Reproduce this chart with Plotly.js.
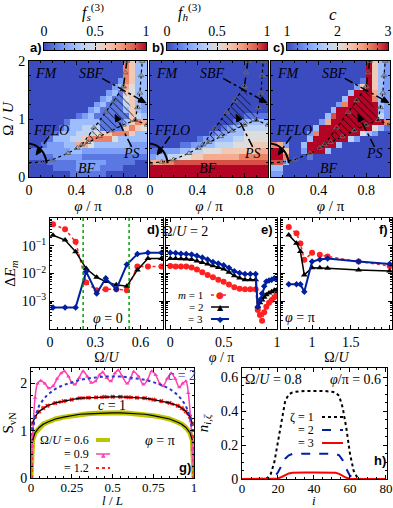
<!DOCTYPE html>
<html><head><meta charset="utf-8">
<script src="https://cdn.plot.ly/plotly-3.0.1.min.js"></script>
<style>html,body{margin:0;padding:0;background:#fff}#chart{width:393px;height:508px}</style>
</head><body><div id="chart"></div>
<script>
// ---------- DATA ----------
const phiC = [0.025,0.075,0.125,0.175,0.225,0.275,0.325,0.375,0.425,0.475,0.525,0.575,0.625,0.675,0.725,0.775,0.825,0.875,0.925,0.975];
const omegaC = [0.05,0.15,0.25,0.35,0.45,0.55,0.65,0.75,0.85,0.95,1.05,1.15,1.25,1.35,1.45,1.55,1.65,1.75,1.85,1.95];
// rows top (Omega=1.95) to bottom (Omega=0.05); hex digit d -> d/10 of the colour range
const fsRows = [
"00000000000000008633","00000000000000008633","00000000000000008633","00000000000000028633",
"00000000000000237533","00000000000002316533","00000000000023115633","00000000000231114632",
"00000000002311113632","00000000123111111643","00000013333311113687","00000123344411116865",
"00001333444566888633","00013334468888533333","00122233775333333222","11222223322222222222",
"11112222211111111111","00011111222221111100","00001111222211110000","00000001111110000000"];
const fhRows = [
"00000000000000000000","00000000000000000000","00000000000000000000","00000000000000000000",
"00000000000000000000","00000000000000000000","00000000000000000000","00000000000000000000",
"00000000000000000000","00000000000000001111","00000000000000123333","00000000000012334444",
"00000000001223335555","00000000122333445555","00000112233444555666","11222334455566666677",
"23344556677777788888","77889999999999999999","aaaaaaaaaaaaaaaaaaaa","aaaaaaaaaaaaaaaaaaaa"];
const cRows = [
"0000000000000000a632","0000000000000000a632","0000000000000000a632","0000000000000001a632",
"0000000000000026a632","00000000000003aaa732","0000000000003aaaa832","0000000000028aaaaa32",
"00000000003aaaaaaa32","00000000039aaaaaaa42","0000000027aaaaaaaaa8","00000003aaaaaaaaa531",
"00000028aaaaaaa53200","0000003aaaaaa4200000","872003aaaaa300000000","aa6002aaa30000000000",
"aa800010000000000000","99300000000000000000","33000000000000000000","22000000000000000000"];

// phase boundaries
const bfPhi = [0, 0.1, 0.2, 0.33, 0.41, 0.5, 0.6, 0.7, 0.8, 0.9, 1.0];
const bfOmega = [0.24, 0.26, 0.3, 0.41, 0.5, 0.6, 0.7, 0.8, 0.9, 0.98, 0.9];
const psPhi = [0.45, 0.5, 0.6, 0.7, 0.8, 0.9, 0.8];
const psOmega = [0.56, 0.6, 0.7, 0.8, 0.9, 0.98, 1.56];
const psEdgePhi = [0.45, 0.55, 0.65, 0.72, 0.8];
const psEdgeOmega = [0.56, 0.85, 1.12, 1.32, 1.56];
const sbfDashPhi = [0.8, 0.815, 0.83];
const sbfDashOmega = [1.56, 1.8, 2.0];
const sbfDotPhi = [0.9, 0.92, 0.94, 0.95, 0.96];
const sbfDotOmega = [0.98, 1.2, 1.45, 1.75, 2.0];
const ffloPhi = [0, 0.05, 0.09, 0.12, 0.14, 0.15];
const ffloOmega = [0.58, 0.55, 0.49, 0.42, 0.33, 0.24];

// panel d (phi = 0)
const dOmega = [0.02, 0.1, 0.17, 0.24, 0.31, 0.37, 0.44, 0.51, 0.58, 0.65, 0.74];
const dM1 = [0.6, 0.39, 0.14, 0.0047, 0.0025, 0.0027, 0.0027, 0.0025, 0.018, 0.018, 0.018];
const dM2 = [0.24, 0.16, 0.061, 0.015, 0.0073, 0.0051, 0.0039, 0.0035, 0.0135, 0.035, 0.035];
const dM3 = [0.00059, 0.00059, 0.00059, 0.0117, 0.0019, 0.0067, 0.0027, 0.021, 0.05, 0.056, 0.056];
const dGreen = [0.22, 0.525];
// panel e (Omega/U = 2)
const ePhi = [0,0.05,0.1,0.15,0.2,0.25,0.3,0.35,0.4,0.45,0.5,0.55,0.6,0.65,0.7,0.75,0.8,0.82,0.84,0.86,0.88,0.9,0.925,0.95,0.975,1.0];
const eM1 = [0.0186,0.018,0.018,0.0178,0.0166,0.0138,0.011,0.0089,0.0074,0.006,0.005,0.004,0.0032,0.0028,0.0027,0.0027,0.0027,0.00048,0.00032,0.0002,0.0004,0.00063,0.00089,0.0011,0.0014,0.0017];
const eM2 = [0.035,0.035,0.034,0.033,0.032,0.028,0.025,0.022,0.019,0.0166,0.0145,0.0112,0.0083,0.0069,0.006,0.0059,0.0059,0.00063,0.00089,0.0011,0.0014,0.0017,0.002,0.0022,0.0025,0.0026];
const eM3 = [0.056,0.055,0.052,0.05,0.048,0.044,0.038,0.032,0.026,0.023,0.02,0.016,0.012,0.0105,0.0095,0.0095,0.0095,0.00063,0.0011,0.0019,0.0035,0.0051,0.0056,0.0059,0.0068,0.0063];
// panel f (phi = pi)
const fOmega = [0.7, 0.8, 0.85, 0.9, 1.0, 1.1, 1.2, 1.6, 2.0];
const fM1 = [0.47, 0.28, 0.12, 0.031, 0.056, 0.047, 0.041, 0.027, 0.0186];
const fM2 = [0.245, 0.123, 0.062, 0.0089, 0.0162, 0.0162, 0.0155, 0.0135, 0.0123];
const fM3 = [0.0041, 0.0041, 0.0041, 0.0022, 0.027, 0.032, 0.035, 0.027, 0.022];

// panel g
const gL = [0,0.01,0.025,0.05,0.075,0.1,0.15,0.2,0.25,0.3,0.35,0.4,0.45,0.5,0.55,0.6,0.65,0.7,0.75,0.8,0.85,0.9,0.925,0.95,0.975,0.99,1.0];
const gS06 = [0,0.80,0.96,1.07,1.14,1.18,1.25,1.29,1.32,1.35,1.36,1.37,1.38,1.38,1.38,1.37,1.36,1.35,1.32,1.29,1.25,1.18,1.14,1.07,0.96,0.80,0];
const gS12 = [0,1.15,1.30,1.41,1.48,1.53,1.59,1.63,1.66,1.69,1.70,1.71,1.72,1.72,1.72,1.71,1.70,1.69,1.66,1.63,1.59,1.53,1.48,1.41,1.30,1.15,0];
const magL = [0,0.01,0.025,0.04,0.06,0.085,0.11,0.135,0.16,0.185,0.205,0.23,0.25,0.27,0.295,0.32,0.345,0.37,0.395,0.42,0.44,0.465,0.49,0.515,0.535,0.56,0.59,0.61,0.63,0.66,0.69,0.715,0.74,0.765,0.79,0.81,0.835,0.86,0.885,0.91,0.93,0.95,0.965,0.98,0.99,1.0];
const magS = [0,0.9,1.7,2.0,2.06,2.0,1.9,1.95,2.1,2.22,2.26,2.15,2.02,1.98,2.12,2.26,2.15,2.02,2.05,2.18,2.24,2.12,2.05,2.22,2.28,2.15,2.0,2.1,2.25,2.15,1.98,2.08,2.26,2.18,2.0,1.95,2.1,2.22,2.1,1.92,2.0,2.05,1.8,1.2,0.6,0];
const fitL = [0.01,0.025,0.05,0.075,0.1,0.15,0.2,0.25,0.3,0.35,0.4,0.45,0.5,0.55,0.6,0.65,0.7,0.75,0.8,0.85,0.9,0.925,0.95,0.975,0.99];
const fitC1a = [0.80,0.96,1.07,1.14,1.18,1.25,1.29,1.32,1.35,1.36,1.37,1.38,1.38,1.38,1.37,1.36,1.35,1.32,1.29,1.25,1.18,1.14,1.07,0.96,0.80];
const fitC1b = [1.15,1.30,1.41,1.48,1.53,1.59,1.63,1.66,1.69,1.70,1.71,1.72,1.72,1.72,1.71,1.70,1.69,1.66,1.63,1.59,1.53,1.48,1.41,1.30,1.15];
const fitC2 = [1.0,1.30,1.53,1.66,1.76,1.89,1.97,2.03,2.08,2.11,2.13,2.15,2.15,2.15,2.13,2.11,2.08,2.03,1.97,1.89,1.76,1.66,1.53,1.30,1.0];

// panel h
const hI = [0,10,14,16,18,20,22,24,26,28,30,35,40,45,50,52,54,56,58,60,62,64,66,70,80];
const hZ1 = [0,0,0.005,0.03,0.1,0.22,0.36,0.46,0.5,0.51,0.515,0.52,0.52,0.52,0.515,0.51,0.49,0.42,0.3,0.15,0.05,0.01,0,0,0];
const hZ2 = [0,0,0,0,0.01,0.04,0.08,0.12,0.14,0.148,0.15,0.15,0.15,0.15,0.15,0.148,0.14,0.11,0.06,0.02,0.005,0,0,0,0];
const hZ3 = [0,0,0,0,0,0.003,0.012,0.025,0.033,0.037,0.038,0.038,0.038,0.038,0.038,0.037,0.03,0.018,0.007,0.002,0,0,0,0,0];

// ---------- STYLE ----------
const W = 393, H = 508;
const P = px => px / W;
const Q = py => 1 - py / H;
const SERIF = 'Liberation Serif, DejaVu Serif, serif';
const SANS = 'Liberation Sans, DejaVu Sans, sans-serif';
const coolwarm = [[0,'rgb(59,76,192)'],[0.125,'rgb(98,130,234)'],[0.25,'rgb(141,176,254)'],[0.375,'rgb(184,208,249)'],[0.5,'rgb(221,221,221)'],[0.625,'rgb(245,196,173)'],[0.75,'rgb(244,154,123)'],[0.875,'rgb(222,96,77)'],[1,'rgb(180,4,38)']];
const RED = '#ff2020', BLUE = '#00209f', MAG = '#ff40b0', YEL = '#bcc400', FITBLUE = '#2838c8';

function decode(rows, lo, hi) {
  return rows.slice().reverse().map(r => r.split('').map(ch => lo + (hi - lo) * parseInt(ch, 16) / 10));
}

// pixel frames of the three maps: [left, right, bottom, top]
const frames = {x:[29,147,177,61], x2:[150,268,177,61], x3:[271,390,177,61]};

const traces = [];
const maps = [
  {z: decode(fsRows, 0, 1), lo: 0, hi: 1, xa: 'x', ya: 'y'},
  {z: decode(fhRows, 0, 1), lo: 0, hi: 1, xa: 'x2', ya: 'y2'},
  {z: decode(cRows, 1, 3), lo: 1, hi: 3, xa: 'x3', ya: 'y3'}
];
maps.forEach(m => {
  traces.push({type:'heatmap', x: phiC, y: omegaC, z: m.z, zmin: m.lo, zmax: m.hi, colorscale: coolwarm,
    zsmooth: false, showscale: false, xaxis: m.xa, yaxis: m.ya, hoverinfo: 'skip'});
  const common = {type:'scatter', xaxis: m.xa, yaxis: m.ya, hoverinfo:'skip', showlegend:false};
  const tri = {symbol:'triangle-up-open', size:5, color:'#666', line:{width:1}};
  traces.push(Object.assign({}, common, {x: psPhi, y: psOmega, mode:'lines', fill:'toself', fillcolor:'rgba(0,0,0,0)',
    line:{width:0}, fillpattern:{shape:'\\', fgcolor:'#000', bgcolor:'rgba(0,0,0,0)', size:5, solidity:0.15}}));
  traces.push(Object.assign({}, common, {x: bfPhi, y: bfOmega, mode:'lines+markers', line:{color:'#000', width:1.2, dash:'dot'}, marker: tri}));
  traces.push(Object.assign({}, common, {x: psEdgePhi, y: psEdgeOmega, mode:'lines+markers', line:{color:'#000', width:1.2, dash:'dot'}, marker: tri}));
  traces.push(Object.assign({}, common, {x: sbfDashPhi, y: sbfDashOmega, mode:'lines+markers', line:{color:'#000', width:1.5, dash:'dash'}, marker: tri}));
  traces.push(Object.assign({}, common, {x: sbfDotPhi, y: sbfDotOmega, mode:'lines+markers', line:{color:'#000', width:1.2, dash:'dot'}, marker: tri}));
  traces.push(Object.assign({}, common, {x: ffloPhi, y: ffloOmega, mode:'lines', line:{color:'#000', width:2, shape:'spline'}}));
});

// colour bars drawn as small smooth heatmaps built from the colour-scale stops
const cbStops = coolwarm.map(s => s[0]);
[['x9','y9',0,1],['x10','y10',0,1],['x11','y11',1,3]].forEach(([xa, ya, lo, hi]) => {
  const v = cbStops.map(s => lo + (hi - lo) * s);
  traces.push({type:'heatmap', x: v, y:[0,1], z:[v, v], zmin: lo, zmax: hi, colorscale: coolwarm, zsmooth:'best',
    showscale:false, xaxis: xa, yaxis: ya, hoverinfo:'skip'});
});

function mTraces(x, y1, y2, y3, xa, ya) {
  const c = {type:'scatter', mode:'lines+markers', xaxis: xa, yaxis: ya, hoverinfo:'skip', showlegend:false};
  traces.push(Object.assign({}, c, {x, y: y1, line:{color:RED, width:1.5, dash:'dot'}, marker:{symbol:'circle', size:6, color:RED}}));
  traces.push(Object.assign({}, c, {x, y: y2, line:{color:'#000', width:1.5}, marker:{symbol:'triangle-up', size:6, color:'#000'}}));
  traces.push(Object.assign({}, c, {x, y: y3, line:{color:BLUE, width:2}, marker:{symbol:'diamond', size:5, color:BLUE}}));
}
mTraces(dOmega, dM1, dM2, dM3, 'x4', 'y4');
mTraces(ePhi, eM1, eM2, eM3, 'x5', 'y5');
mTraces(fOmega, fM1, fM2, fM3, 'x6', 'y6');

const gc = {type:'scatter', xaxis:'x7', yaxis:'y7', hoverinfo:'skip', showlegend:false};
traces.push(Object.assign({}, gc, {x: gL, y: gS06, mode:'lines', line:{color:YEL, width:5}}));
traces.push(Object.assign({}, gc, {x: gL, y: gS12, mode:'lines+markers', line:{color:RED, width:3, dash:'dot'}, marker:{symbol:'x', size:4, color:RED}}));
traces.push(Object.assign({}, gc, {x: magL, y: magS, mode:'lines+markers', line:{color:MAG, width:1.5, shape:'spline'}, marker:{symbol:'triangle-up', size:4, color:MAG}}));
traces.push(Object.assign({}, gc, {x: fitL, y: fitC1a, mode:'lines', line:{color:'#000', width:1.2}}));
traces.push(Object.assign({}, gc, {x: fitL, y: fitC1b, mode:'lines', line:{color:'#000', width:1.2}}));
traces.push(Object.assign({}, gc, {x: fitL, y: fitC2, mode:'lines', line:{color:FITBLUE, width:2, dash:'dot'}}));

const hc = {type:'scatter', mode:'lines', xaxis:'x8', yaxis:'y8', hoverinfo:'skip', showlegend:false};
traces.push(Object.assign({}, hc, {x: hI, y: hZ1, line:{color:'#000', width:2, dash:'dot'}}));
traces.push(Object.assign({}, hc, {x: hI, y: hZ2, line:{color:BLUE, width:2, dash:'dash'}}));
traces.push(Object.assign({}, hc, {x: hI, y: hZ3, line:{color:'#f00', width:2}}));

// ---------- LAYOUT ----------
const base = {showline:true, linecolor:'#000', linewidth:1, mirror:'allticks', ticks:'inside', ticklen:4, tickwidth:1,
  tickcolor:'#000', showgrid:false, zeroline:false, fixedrange:true, automargin:false, tickfont:{size:14, color:'#000'}};
const A = o => Object.assign({}, base, o);
const mn = (d, t0) => ({ticks:'inside', ticklen:2, tickcolor:'#000', dtick:d, tick0: t0 || 0, showgrid:false});
const logMinor = [];
[-4,-3,-2,-1].forEach(e => { for (let k = 2; k <= 9; k++) logMinor.push(k * Math.pow(10, e)); });
const logTicks = {type:'log', range:[-4, 0], tickvals:[0.1, 0.01, 0.001],
  ticktext:['10<sup>−1</sup>','10<sup>−2</sup>','10<sup>−3</sup>'],
  minor:{ticks:'inside', ticklen:2, tickcolor:'#000', tickvals: logMinor, showgrid:false}};
const phiTitle = {text:'<i>φ</i> / π', font:{size:15}, standoff:0};
const small = {size:13, color:'#000'};

const layout = {
  width: W, height: H, margin:{l:0, r:0, t:0, b:0}, showlegend:false,
  paper_bgcolor:'#fff', plot_bgcolor:'rgba(0,0,0,0)',
  font:{family: SERIF, size:14, color:'#000'},
  xaxis: A({domain:[P(29), P(147)], anchor:'y', range:[0,1], dtick:0.4, tick0:0, minor: mn(0.1), title: phiTitle}),
  yaxis: A({domain:[Q(177), Q(61)], anchor:'x', range:[0,2], dtick:1, minor: mn(0.25), title:{text:'Ω / <i>U</i>', font:{size:15}, standoff:6}}),
  xaxis2: A({domain:[P(150), P(268)], anchor:'y2', range:[0,1], dtick:0.4, tick0:0, minor: mn(0.1), title: phiTitle}),
  yaxis2: A({domain:[Q(177), Q(61)], anchor:'x2', range:[0,2], dtick:1, minor: mn(0.25), showticklabels:false}),
  xaxis3: A({domain:[P(271), P(390)], anchor:'y3', range:[0,1], dtick:0.4, tick0:0, minor: mn(0.1), title: phiTitle}),
  yaxis3: A({domain:[Q(177), Q(61)], anchor:'x3', range:[0,2], dtick:1, minor: mn(0.25), showticklabels:false}),
  xaxis4: A({domain:[P(50), P(163)], anchor:'y4', range:[0,0.75], tickvals:[0,0.3,0.6], minor: mn(0.05), title:{text:'Ω/<i>U</i>', font:{size:14}, standoff:0}}),
  yaxis4: A(Object.assign({domain:[Q(329), Q(218)], anchor:'x4', title:{text:'Δ<i>E</i><sub><i>m</i></sub>', font:{size:15}, standoff:2}}, logTicks)),
  xaxis5: A({domain:[P(166), P(277)], anchor:'y5', range:[-0.04,1], tickvals:[0,0.5,1], minor: mn(0.1), title:{text:'<i>φ</i> / π', font:{size:14}, standoff:0}}),
  yaxis5: A(Object.assign({domain:[Q(329), Q(218)], anchor:'x5', showticklabels:false}, logTicks)),
  xaxis6: A({domain:[P(281), P(392)], anchor:'y6', range:[0.6,2.03], tickvals:[1,1.5,2], minor: mn(0.1), title:{text:'Ω/<i>U</i>', font:{size:14}, standoff:0}}),
  yaxis6: A(Object.assign({domain:[Q(329), Q(218)], anchor:'x6', showticklabels:false}, logTicks)),
  xaxis7: A({domain:[P(31), P(194)], anchor:'y7', range:[0,1], tickvals:[0,0.25,0.5,0.75,1], minor: mn(0.05), tickfont: small, ticklabelstandoff:-3}),
  yaxis7: A({domain:[Q(478), Q(368)], anchor:'x7', range:[0,2.33], tickvals:[0,1,2], minor: mn(0.25), title:{text:'S<sub>vN</sub>', font:{size:15}, standoff:4}}),
  xaxis8: A({domain:[P(242), P(387)], anchor:'y8', range:[0,80.6], tickvals:[0,20,40,60,80], minor: mn(5), tickfont: small, ticklabelstandoff:-3}),
  yaxis8: A({domain:[Q(479), Q(368)], anchor:'x8', range:[0,0.655], tickvals:[0,0.2,0.4,0.6], minor: mn(0.05), title:{text:'<i>n</i><sub><i>i,ζ</i></sub>', font:{size:15}, standoff:8}}),
  xaxis9: A({domain:[P(44), P(146)], anchor:'y9', side:'top', range:[0,1], tickvals:[0,0.5,1], ticklen:3, minor: mn(0.1)}),
  yaxis9: A({domain:[Q(50), Q(43)], anchor:'x9', range:[0,1], showticklabels:false, ticks:''}),
  xaxis10: A({domain:[P(167), P(267)], anchor:'y10', side:'top', range:[0,1], tickvals:[0,0.5,1], ticklen:3, minor: mn(0.1)}),
  yaxis10: A({domain:[Q(50), Q(43)], anchor:'x10', range:[0,1], showticklabels:false, ticks:''}),
  xaxis11: A({domain:[P(287), P(388)], anchor:'y11', side:'top', range:[1,3], tickvals:[1,2,3], ticklen:3, minor: mn(0.2, 1)}),
  yaxis11: A({domain:[Q(50), Q(43)], anchor:'x11', range:[0,1], showticklabels:false, ticks:''}),
  annotations: [], shapes: []
};

const ann = layout.annotations, shp = layout.shapes;
function T(text, x, y, o) {
  ann.push(Object.assign({text, x:P(x), y:Q(y), xref:'paper', yref:'paper', xanchor:'center', yanchor:'middle',
    showarrow:false, font:{family:SERIF, size:14, color:'#000'}}, o || {}));
}
const bold = {font:{family:SANS, size:13, color:'#000', weight:'bold'}};
T('<b>a)</b>', 36, 47, bold); T('<b>b)</b>', 158, 47, bold); T('<b>c)</b>', 279, 47, bold);
T('<b>d)</b>', 153, 229, bold); T('<b>e)</b>', 267, 229, bold); T('<b>f)</b>', 383, 229, bold);
T('<b>g)</b>', 185, 467, bold); T('<b>h)</b>', 380, 460, bold);
T('<i>f</i><sub><i>s</i></sub><sup>(3)</sup>', 93, 12, {font:{family:SERIF, size:16, color:'#000'}});
T('<i>f</i><sub><i>h</i></sub><sup>(3)</sup>', 189, 12, {font:{family:SERIF, size:16, color:'#000'}});
T('<i>c</i>', 333, 15, {font:{family:SERIF, size:17, color:'#000'}});
T('<i>φ</i> = 0', 108, 318); T('Ω/<i>U</i> = 2', 185, 231); T('<i>φ</i> = π', 300, 317);
T('<i>c</i> = 2', 182, 375, {font:{family:SERIF, size:14, color:FITBLUE}});
T('<i>c</i> = 1', 112, 405); T('<i>φ</i> = π', 160, 440);
T('Ω/<i>U</i> = 0.8', 273, 379); T('<i>φ</i>/π = 0.6', 355, 379);
// bottom-row axis titles (placed below the tick labels)
T('<i>l</i> / <i>L</i>', 112, 500, {font:{family:SERIF, size:13, color:'#000'}});
T('<i>i</i>', 314, 500, {font:{family:SERIF, size:13, color:'#000'}});

// phase-diagram labels and arrows on a, b, c
const labels = [['<i>FM</i>',0.15,1.79],['<i>SBF</i>',0.53,1.79],['<i>FFLO</i>',0.19,0.81],['<i>PS</i>',0.87,0.41],['<i>BF</i>',0.49,0.15]];
const arrows = [[0.62,1.7,0.99,1.28],[0.87,0.52,0.73,1.08],[0.17,0.7,0.06,0.38]];
[['x','y'],['x2','y2'],['x3','y3']].forEach(([xa, ya]) => {
  labels.forEach(([t, x, y]) => ann.push({text:t, x, y, xref:xa, yref:ya, showarrow:false, font:{family:SERIF, size:14, color:'#000'}}));
  const [xl, xr, yb, yt] = frames[xa];
  const toPx = (x, y) => [xl + x * (xr - xl), yb - y / 2 * (yb - yt)];
  const toD = (px, py) => [(px - xl) / (xr - xl), (yb - py) / (yb - yt) * 2];
  arrows.forEach(([x0, y0, x1, y1]) => {
    const [ax, ay] = toPx(x0, y0), [bx, by] = toPx(x1, y1);
    const len = Math.hypot(bx - ax, by - ay), ux = (bx - ax) / len, uy = (by - ay) / len;
    const Lh = 7, wh = 3;
    const cx = bx - ux * Lh, cy = by - uy * Lh;
    const p1 = toD(cx - uy * wh, cy + ux * wh), p2 = toD(cx + uy * wh, cy - ux * wh), c = toD(cx, cy);
    shp.push({type:'line', xref:xa, yref:ya, x0, y0, x1:c[0], y1:c[1], line:{color:'#000', width:1.5, dash:'dashdot'}});
    shp.push({type:'path', xref:xa, yref:ya, path:`M${x1},${y1} L${p1[0]},${p1[1]} L${p2[0]},${p2[1]} Z`,
      fillcolor:'#000', line:{color:'#000', width:1}});
  });
});
// green transition lines in d
dGreen.forEach(x => shp.push({type:'line', xref:'x4', yref:'y4 domain', x0:x, x1:x, y0:0, y1:1, line:{color:'#00a000', width:1.5, dash:'dot'}}));

// hand-built legends (text left of key, as in the figure)
function key(tx, y, x0, x1, line, sym, symColor, symSize, label, fs) {
  T(label, tx, y, {xanchor:'right', font:{family:SERIF, size: fs || 12, color:'#000'}});
  shp.push({type:'line', xref:'paper', yref:'paper', x0:P(x0), x1:P(x1), y0:Q(y), y1:Q(y), line});
  if (sym) T(sym, (x0 + x1) / 2, y, {font:{family:'DejaVu Sans', size:symSize, color:symColor}});
}
key(205, 295, 211, 229, {color:RED, width:1.5, dash:'dot'}, '●', RED, 9, '<i>m</i> = 1', 11);
key(205, 307, 211, 229, {color:'#000', width:1.5}, '▲', '#000', 8, '= 2', 11);
key(205, 319, 211, 229, {color:BLUE, width:2}, '◆', BLUE, 8, '= 3', 11);
key(91, 440, 96, 110, {color:YEL, width:4}, null, null, 0, 'Ω/<i>U</i> = 0.6');
key(91, 454, 96, 110, {color:MAG, width:1.5}, '▲', MAG, 6, '= 0.9');
key(91, 468, 96, 110, {color:RED, width:2, dash:'dot'}, null, null, 0, '= 1.2');
key(316, 417, 322, 343, {color:'#000', width:2, dash:'dot'}, null, null, 0, 'ζ = 1');
key(316, 430, 322, 343, {color:BLUE, width:2, dash:'dash'}, null, null, 0, '= 2');
key(316, 443, 322, 343, {color:'#f00', width:2}, null, null, 0, '= 3');

Plotly.newPlot('chart', traces, layout, {staticPlot:true, displayModeBar:false});
</script></body></html>
